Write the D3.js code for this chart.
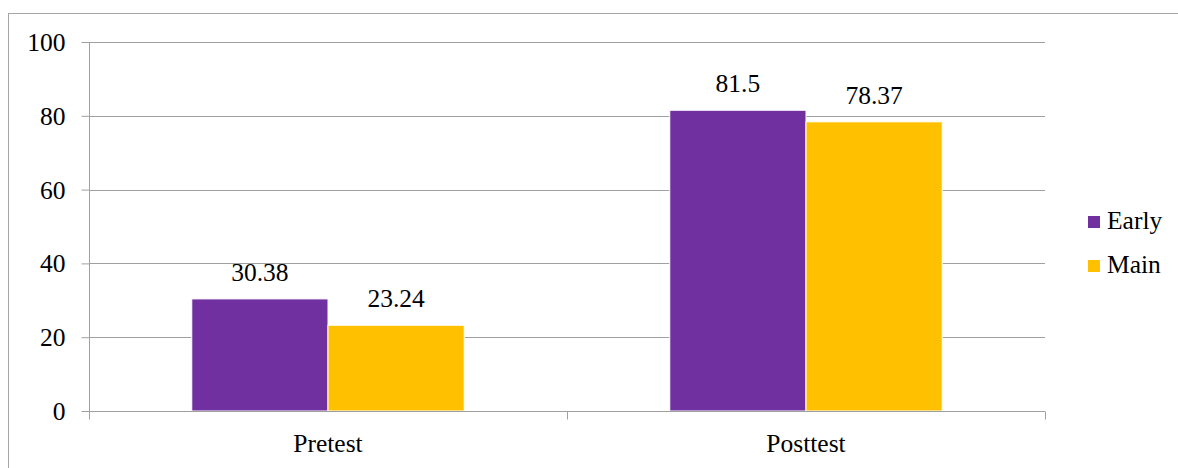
<!DOCTYPE html>
<html>
<head>
<meta charset="utf-8">
<script src="https://cdn.jsdelivr.net/npm/d3@7"></script>
<style>
  html, body { margin: 0; padding: 0; background: #fff; }
</style>
</head>
<body>
<div id="container"></div>
<script>
// data
var categories = ["Pretest", "Posttest"];
var seriesNames = ["Early", "Main"];
var earlyValues = [30.38, 81.5];
var mainValues = [23.24, 78.37];
var yTicks = [0, 20, 40, 60, 80, 100];
var colors = ["#7030A0", "#FFC000"];

var W = 1178, H = 468;
var margin = {top: 42, right: 133, bottom: 57, left: 89},
    width = W - margin.left - margin.right,
    height = H - margin.top - margin.bottom;

// serif text helper
function serif(sel) {
  return sel
    .attr("font-family", "Liberation Serif")
    .style("font-family", "'Liberation Serif', serif")
    .style("font-size", "25.5px")
    .attr("fill", "#000");
}

var svg = d3.select("#container")
  .append("svg")
    .attr("width", W)
    .attr("height", H)
    .style("font-family", "'Liberation Serif', serif");

// outer chart border
svg.append("rect")
  .attr("x", 8.5).attr("y", 13.5)
  .attr("width", W).attr("height", H)
  .attr("fill", "none")
  .attr("stroke", "#a6a6a6")
  .attr("stroke-width", 1);

var g = svg.append("g")
  .attr("transform", "translate(" + margin.left + "," + margin.top + ")");

var x = d3.scaleBand()
  .domain(categories)
  .range([0, width])
  .padding(0);

var y = d3.scaleLinear()
  .domain([0, 100])
  .range([height, 0]);

var barW = x.bandwidth() * 0.285;
var x1 = d3.scaleBand()
  .domain(seriesNames)
  .range([0, barW * 2])
  .padding(0);

// gridlines
g.append("g")
  .selectAll("line")
  .data(yTicks.filter(function(d) { return d > 0; }))
  .enter().append("line")
    .attr("x1", 0).attr("x2", width)
    .attr("y1", function(d) { return Math.round(y(d)) + 0.5; })
    .attr("y2", function(d) { return Math.round(y(d)) + 0.5; })
    .attr("stroke", "#a0a0a0")
    .attr("stroke-width", 1);

// bars
var rows = categories.map(function(c, i) {
  return {cat: c, vals: [earlyValues[i], mainValues[i]]};
});

var groups = g.selectAll(".grp")
  .data(rows)
  .enter().append("g")
    .attr("transform", function(d) {
      return "translate(" + (x(d.cat) + x.bandwidth() / 2 - barW) + ",0)";
    });

groups.selectAll("rect")
  .data(function(d) { return d.vals.map(function(v, j) { return {name: seriesNames[j], v: v, j: j}; }); })
  .enter().append("rect")
    .attr("x", function(d) { return x1(d.name); })
    .attr("y", function(d) { return y(d.v); })
    .attr("width", x1.bandwidth())
    .attr("height", function(d) { return height - y(d.v); })
    .attr("fill", function(d) { return colors[d.j]; })
    .attr("stroke", "#fff")
    .attr("stroke-width", 1);

groups.selectAll("text")
  .data(function(d) { return d.vals.map(function(v, j) { return {name: seriesNames[j], v: v}; }); })
  .enter().append("text")
    .attr("x", function(d) { return x1(d.name) + x1.bandwidth() / 2; })
    .attr("y", function(d) { return y(d.v) - 18; })
    .attr("text-anchor", "middle")
    .call(serif)
    .text(function(d) { return d.v; });

// y axis
var yAxis = g.append("g")
  .attr("transform", "translate(0.5,0)")
  .call(d3.axisLeft(y).tickValues(yTicks).tickSize(8).tickPadding(16).tickFormat(d3.format("d")));
yAxis.attr("font-family", null).attr("font-size", null);
yAxis.select(".domain").attr("stroke", "#a0a0a0").attr("d", "M0," + y(100) + "V" + height);
yAxis.selectAll(".tick line").attr("stroke", "#a0a0a0");
yAxis.selectAll(".tick text")
  .call(serif)
  .attr("dy", "0.33em");

// x axis
var xAxis = g.append("g")
  .attr("transform", "translate(0," + (Math.round(height) + 0.5) + ")");
xAxis.append("line")
  .attr("x1", 0).attr("x2", width)
  .attr("stroke", "#a0a0a0");
xAxis.selectAll(".xt")
  .data([0, width / 2, width])
  .enter().append("line")
    .attr("x1", function(d) { return Math.round(d) + 0.5; })
    .attr("x2", function(d) { return Math.round(d) + 0.5; })
    .attr("y1", 0).attr("y2", 8)
    .attr("stroke", "#a0a0a0");
xAxis.selectAll(".xl")
  .data(categories)
  .enter().append("text")
    .attr("x", function(d) { return x(d) + x.bandwidth() / 2; })
    .attr("y", 40)
    .attr("text-anchor", "middle")
    .call(serif)
    .text(function(d) { return d; });

// legend
var legend = svg.append("g")
  .attr("transform", "translate(1088,216)");
var item = legend.selectAll(".li")
  .data(seriesNames)
  .enter().append("g")
    .attr("transform", function(d, i) { return "translate(0," + (i * 44) + ")"; });
item.append("rect")
  .attr("width", 12).attr("height", 12)
  .attr("fill", function(d, i) { return colors[i]; });
item.append("text")
  .attr("x", 19).attr("y", 13)
  .call(serif)
  .text(function(d) { return d; });
</script>
</body>
</html>
